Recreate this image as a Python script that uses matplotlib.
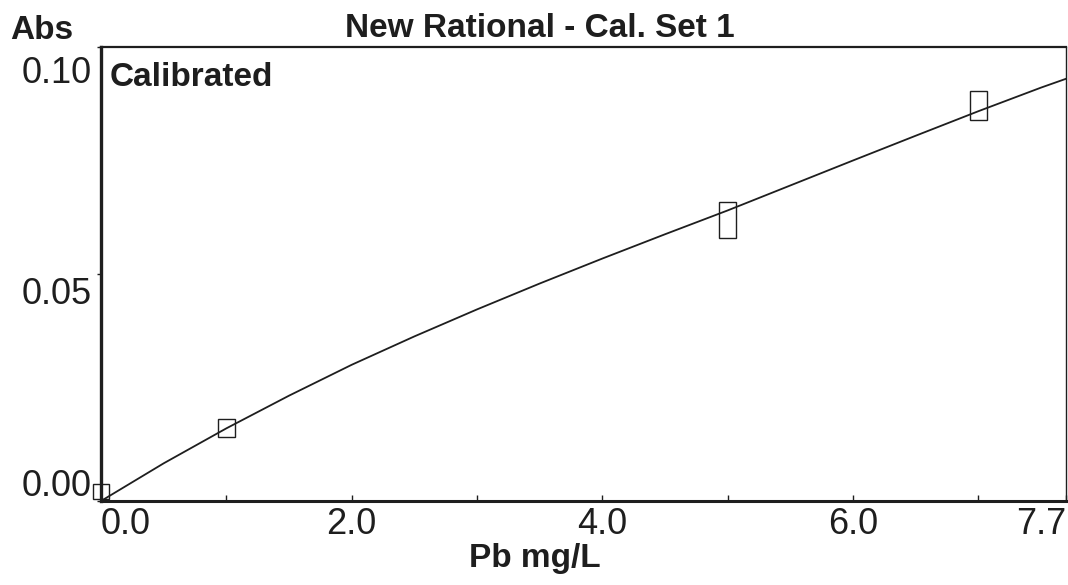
import matplotlib
matplotlib.use("Agg")
import matplotlib.pyplot as plt
from matplotlib.patches import Rectangle
from matplotlib.transforms import ScaledTranslation

plt.rcParams["font.family"] = ["Liberation Sans", "DejaVu Sans"]
INK = "#1e1e1e"

# calibration standards (Pb mg/L) with replicate absorbance range
std_conc = [0.0, 1.0, 5.0, 7.0]
std_abs_lo = [0.0004, 0.0140, 0.0579, 0.0840]
std_abs_hi = [0.0037, 0.0180, 0.0658, 0.0904]

# fitted rational calibration curve
curve_conc = [0.0, 0.5, 1.0, 1.5, 2.0, 2.5, 3.0, 3.5, 4.0, 4.5, 5.0,
              5.5, 6.0, 6.5, 7.0, 7.5, 7.7]
curve_abs = [0.0, 0.0083, 0.0160, 0.0232, 0.0300, 0.03625, 0.0422, 0.0479,
             0.0534, 0.05875, 0.0640, 0.0695, 0.0750, 0.08045, 0.08585,
             0.09105, 0.0930]

x_ticks = [0.0, 2.0, 4.0, 6.0, 7.7]
x_ticklabels = ["0.0", "2.0", "4.0", "6.0", "7.7"]
x_minor = [1.0, 3.0, 5.0, 7.0]
y_ticks = [0.0, 0.05, 0.10]
y_ticklabels = ["0.00", "0.05", "0.10"]

fig = plt.figure(figsize=(10.68, 5.85), dpi=100)
ax = fig.add_axes([0.0946, 0.1436, 0.9036, 0.7761])

ax.plot(curve_conc, curve_abs, color=INK, lw=1.3, zorder=3,
        solid_joinstyle="round")

box_w = 0.135
for c, lo, hi in zip(std_conc, std_abs_lo, std_abs_hi):
    ax.add_patch(Rectangle((c - box_w / 2, lo), box_w, hi - lo, fill=False,
                           ec=INK, lw=1.0, clip_on=False, zorder=2))

ax.set_xlim(0, 7.7)
ax.set_ylim(0, 0.10)

ax.set_xticks(x_ticks, labels=x_ticklabels)
ax.set_xticks(x_minor, minor=True)
ax.tick_params(axis="x", which="both", direction="in", length=4, width=1,
               pad=4, labelsize=26, colors=INK)
xl = ax.get_xticklabels()
xl[0].set_ha("left")
xl[-1].set_ha("right")

ax.set_yticks(y_ticks, labels=y_ticklabels)
ax.tick_params(axis="y", direction="out", length=3, width=1, pad=4,
               labelsize=26, colors=INK)
# the printout hangs the upper labels below their tick and sits 0.00 on its tick
for lab in ax.get_yticklabels():
    if lab.get_text() == "0.00":
        lab.set_va("bottom")
        dy = -0.03
    elif lab.get_text() == "0.05":
        lab.set_va("top")
        dy = -0.03
    else:
        lab.set_va("top")
        dy = -0.09
    lab.set_transform(lab.get_transform()
                      + ScaledTranslation(0, dy, fig.dpi_scale_trans))

for side, lw in [("left", 2.4), ("bottom", 2.2), ("top", 1.6), ("right", 1.0)]:
    ax.spines[side].set_linewidth(lw)
    ax.spines[side].set_color(INK)

ax.set_title("New Rational - Cal. Set 1", x=0.455, y=1.041, pad=0,
             va="center", fontsize=24, fontweight="bold", color=INK)
ax.set_ylabel("Abs", rotation=0, ha="center", va="center", fontsize=24,
              fontweight="bold", color=INK)
ax.yaxis.set_label_coords(-0.061, 1.036)
ax.set_xlabel("Pb mg/L", va="center", fontsize=24, fontweight="bold", color=INK)
ax.xaxis.set_label_coords(0.45, -0.126)
ax.text(0.0093, 0.933, "Calibrated", transform=ax.transAxes, ha="left",
        va="center", fontsize=24, fontweight="bold", color=INK)

fig.savefig("out.png", dpi=100, facecolor="white")
